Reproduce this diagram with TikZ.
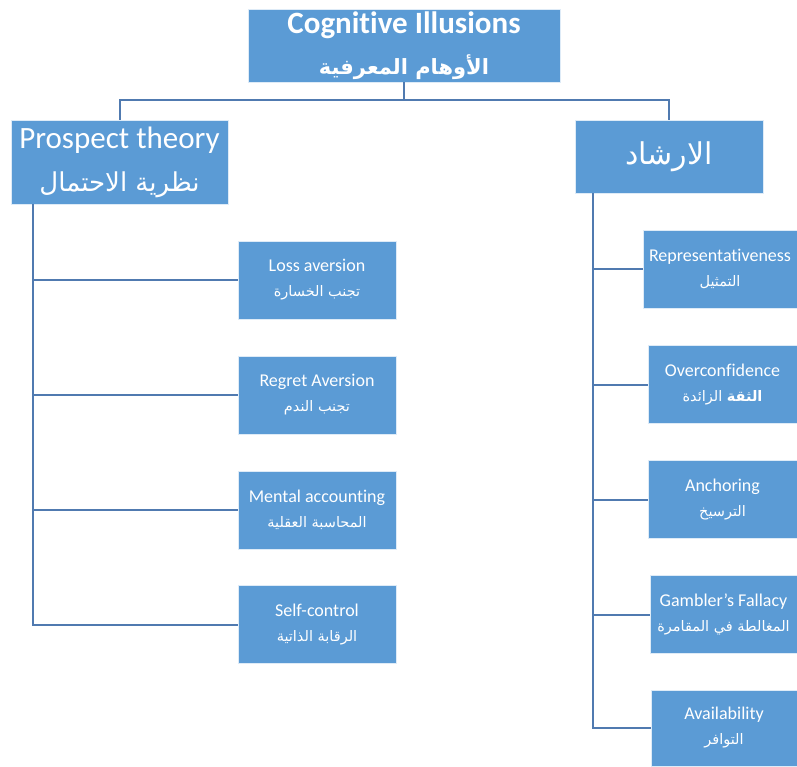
\documentclass[tikz,border=0pt]{standalone}
\usepackage{fontspec}
\setmainfont{Carlito}[Ligatures=NoCommon]
\newfontfamily\arabicfont[Script=Arabic]{DejaVu Sans}
\TeXXeTstate=1
\usepackage{xcolor}
\definecolor{ciBlue}{RGB}{91,155,213}
\definecolor{ciLine}{RGB}{80,122,176}
\usetikzlibrary{positioning}
\newcommand\artxt[1]{{\arabicfont\beginR #1\endR}}

\begin{document}
\begin{tikzpicture}[x=1pt,y=-1pt,
  box/.style={fill=ciBlue,draw=white!80!ciBlue,line width=0.8pt,text=white,align=center,inner sep=0pt},
  head/.style={box,minimum width=312pt,minimum height=73pt,font=\fontsize{31}{38}\selectfont\bfseries},
  grp/.style={box,font=\fontsize{31}{40}\selectfont},
  kid/.style={box,minimum height=78pt,font=\fontsize{18}{24}\selectfont},
  ln/.style={draw=ciLine,line width=2pt}]
  \useasboundingbox (0,0) rectangle (797,766);
  % top and the two groups
  \node[head] (top) at (404,45.5) {Cognitive Illusions\\[3pt]{\fontsize{21}{26}\selectfont\artxt{الأوهام المعرفية}}};
  \node[grp,minimum width=217pt,minimum height=84pt] (pt) at (119.5,162) {Prospect theory\\[3pt]{\fontsize{26}{30}\selectfont\artxt{نظرية الاحتمال}}};
  \node[grp,minimum width=188pt,minimum height=73pt] (irs) at (669,156.5) {{\fontsize{30}{34}\selectfont\artxt{الارشاد}}};
  % prospect theory branch
  \node[kid,minimum width=158pt] (loss) at (317,280) {Loss aversion\\[1pt]{\fontsize{14.5}{18}\selectfont\artxt{تجنب الخسارة}}};
  \node[kid,minimum width=158pt] (regret) at (317,395) {Regret Aversion\\[1pt]{\fontsize{14.5}{18}\selectfont\artxt{تجنب الندم}}};
  \node[kid,minimum width=158pt] (mental) at (317,510) {Mental accounting\\[1pt]{\fontsize{14.5}{18}\selectfont\artxt{المحاسبة العقلية}}};
  \node[kid,minimum width=158pt] (self) at (317,624.5) {Self-control\\[1pt]{\fontsize{14.5}{18}\selectfont\artxt{الرقابة الذاتية}}};
  % heuristics branch
  \node[kid,minimum width=154pt] (repr) at (720,269) {Representativeness\\[1pt]{\fontsize{14.5}{18}\selectfont\artxt{التمثيل}}};
  \node[kid,minimum width=149pt] (over) at (722.5,384.5) {Overconfidence\\[1pt]{\fontsize{14.5}{18}\selectfont\artxt{\textbf{الثقة} الزائدة}}};
  \node[kid,minimum width=149pt] (anch) at (722.5,499.5) {Anchoring\\[1pt]{\fontsize{14.5}{18}\selectfont\artxt{الترسيخ}}};
  \node[kid,minimum width=147pt] (gamb) at (723.5,614.5) {Gambler’s Fallacy\\[1pt]{\fontsize{14.5}{18}\selectfont\artxt{المغالطة في المقامرة}}};
  \node[kid,minimum width=146pt,minimum height=76pt] (avail) at (724,728) {Availability\\[1pt]{\fontsize{14.5}{18}\selectfont\artxt{التوافر}}};
  % connectors
  \draw[ln] (top.south) -- ++(0,18) -| (pt.north);
  \draw[ln] (top.south) -- ++(0,18) -| (irs.north);
  \draw[ln] ([xshift=22pt]pt.south west) |- (loss.west);
  \draw[ln] ([xshift=22pt]pt.south west) |- (regret.west);
  \draw[ln] ([xshift=22pt]pt.south west) |- (mental.west);
  \draw[ln] ([xshift=22pt]pt.south west) |- (self.west);
  \draw[ln] ([xshift=18pt]irs.south west) |- (repr.west);
  \draw[ln] ([xshift=18pt]irs.south west) |- (over.west);
  \draw[ln] ([xshift=18pt]irs.south west) |- (anch.west);
  \draw[ln] ([xshift=18pt]irs.south west) |- (gamb.west);
  \draw[ln] ([xshift=18pt]irs.south west) |- (avail.west);
\end{tikzpicture}
\end{document}
